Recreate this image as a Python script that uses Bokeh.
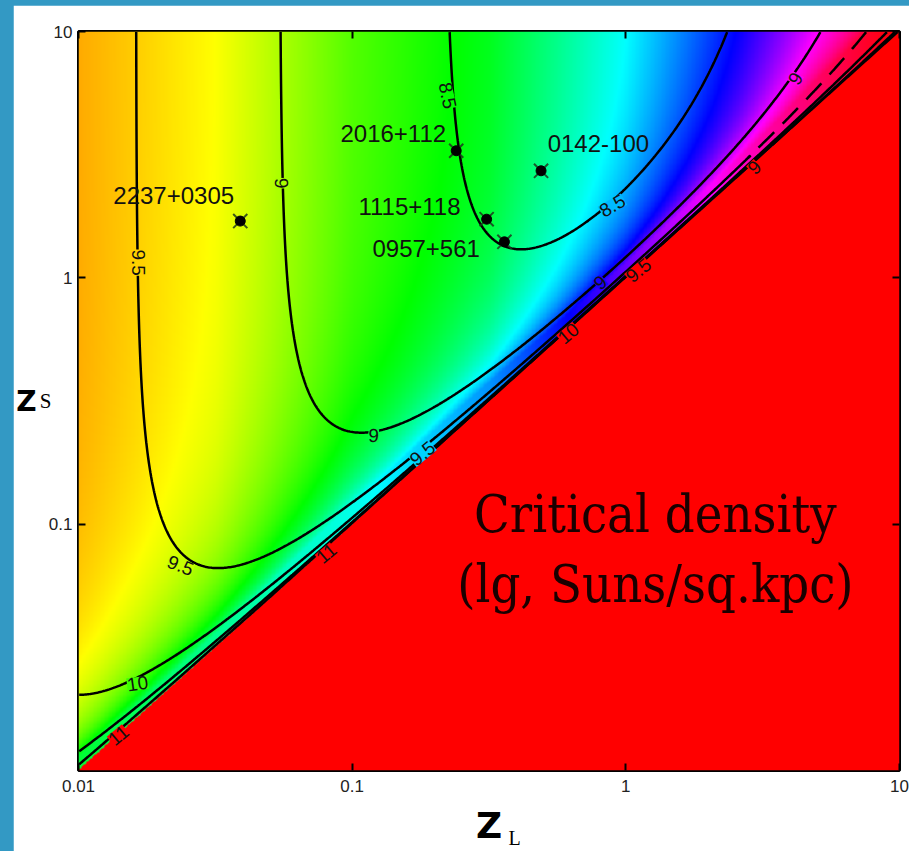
import numpy as np
from bokeh.plotting import figure
from bokeh.plotting.contour import contour_data
from bokeh.models import ColumnDataSource, FixedTicker, LinearAxis, Title
from bokeh.layouts import column
from bokeh.embed import file_html
from bokeh.resources import INLINE
from bokeh.core.properties import value

# ---------------- data ----------------
x_tick_values = [0.01, 0.1, 1, 10]
x_tick_labels = ["0.01", "0.1", "1", "10"]
y_tick_values = [0.1, 1, 10]
y_tick_labels = ["0.1", "1", "10"]

# lensed quasars (lens redshift z_L, source redshift z_S)
lens_names = ["2237+0305", "2016+112", "0142-100", "1115+118", "0957+561"]
lens_zl = [0.039, 0.24, 0.49, 0.31, 0.36]
lens_zs = [1.70, 3.28, 2.72, 1.73, 1.40]
name_zl = [0.0134, 0.0906, 0.518, 0.1054, 0.1186]
name_zs = [2.16, 3.85, 3.51, 1.95, 1.315]

# contour levels of lg(critical density); the upper branch of DASHED_LEVEL is dashed
levels = [8.5, 9.0, 9.5, 10.0, 10.5, 11.0]
DASHED_LEVEL = 9.5
DASH_FROM_ZL = 2.8

# contour labels
clabel_text = ["8.5", "9", "9.5", "9", "9.5", "10", "11", "11", "9.5", "10", "9", "9.5", "8.5", "9", "9"]
clabel_zl = [0.223, 0.0552, 0.0166, 0.1197, 0.0236, 0.01644, 0.0140, 0.0805, 0.1807, 0.617, 0.807, 1.112, 0.893, 4.17, 2.95]
clabel_zs = [5.5, 2.42, 1.153, 0.229, 0.0679, 0.02254, 0.01387, 0.076, 0.1936, 0.594, 0.957, 1.072, 1.963, 6.44, 2.81]
clabel_angle = [-78, -88, -90, -3, -22, 8, 40, 40, 40, 40, 40, 40, 30, 60, 45]

# cosmology used for the critical density field
OMEGA_M = 0.3
H0 = 70.0
OFFSET = -0.89

# colour map: hue (deg) versus lg z_L far from the diagonal, and its cap at the diagonal
HUE_U = [-2.0, -1.5, -1.0, -0.5, 0.0, 0.4, 0.7, 1.0]
HUE_A = [40, 60, 100, 125, 175, 227, 270, 300]
HMAX_U = [-2.0, -1.0, -0.5, 0.0, 0.5, 1.0]
HMAX = [132, 175, 205, 265, 320, 360]

# ---------------- field ----------------
N = 600
u = -2 + (np.arange(N) + 0.5) * 3.0 / N
v = -2 + (np.arange(N) + 0.5) * 3.0 / N
U, V = np.meshgrid(u, v)

zg = np.linspace(0, 12, 120001)
Ez = np.sqrt(OMEGA_M * (1 + zg) ** 3 + 1 - OMEGA_M)
chi_g = np.concatenate([[0.0], np.cumsum(0.5 * (1 / Ez[1:] + 1 / Ez[:-1]) * np.diff(zg))]) * 299792.458 / H0


def log_sigma(uu, vv):
    zl = 10 ** uu
    zs = 10 ** vv
    cl = np.interp(zl, zg, chi_g)
    cs = np.interp(zs, zg, chi_g)
    valid = vv > uu
    dl = cl / (1 + zl)
    ds = cs / (1 + zs)
    dls = np.where(valid, (cs - cl) / (1 + zs), 1.0)
    ratio = ds / (dl * np.maximum(dls, 1e-9))
    out = np.log10(1.6626e18 * ratio) - 6 + OFFSET
    return np.where(valid, out, 99.0)


def hue_at(uu, vv):
    q = np.clip(10 ** (uu - vv), 0, 1 - 1e-12)
    w = -np.log10(1 - q)
    h = np.minimum(np.interp(uu, HUE_U, HUE_A) + 100 * w, np.interp(uu, HMAX_U, HMAX))
    return np.where(vv > uu, h, 360)


def hue_rgb(h):
    h6 = (h / 60.0) % 6
    r = np.clip(np.abs(h6 - 3) - 1, 0, 1)
    g = np.clip(2 - np.abs(h6 - 2), 0, 1)
    b = np.clip(2 - np.abs(h6 - 4), 0, 1)
    return r, g, b


LS = log_sigma(U, V)
R, G, B = hue_rgb(hue_at(U, V))
img = np.empty((N, N), dtype=np.uint32)
view = img.view(dtype=np.uint8).reshape((N, N, 4))
view[..., 0] = (R * 255).astype(np.uint8)
view[..., 1] = (G * 255).astype(np.uint8)
view[..., 2] = (B * 255).astype(np.uint8)
view[..., 3] = 255

# ---------------- figure ----------------
p = figure(frame_width=821, frame_height=739, x_range=(-2, 1), y_range=(-2, 1),
           output_backend="svg", toolbar_location=None,
           min_border_left=65, min_border_right=10, min_border_top=26, min_border_bottom=81,
           x_axis_type=None, y_axis_type=None)
p.border_fill_color = "white"
p.background_fill_color = "red"
p.outline_line_color = "black"
p.outline_line_width = 3
p.grid.visible = False

p.image_rgba(image=[img], x=-2, y=-2, dw=3, dh=3)

solid_levels = [lv for lv in levels if lv != DASHED_LEVEL]
p.contour(u, v, LS, levels=solid_levels, line_color="black", line_width=2.5)

# the dashed-branch level, drawn from the library's contour lines
cd = contour_data(u, v, LS, levels=[DASHED_LEVEL, DASHED_LEVEL + 1e-6], want_fill=False, want_line=True)
lx = np.asarray(cd.line_data.xs[0], dtype=float)
ly = np.asarray(cd.line_data.ys[0], dtype=float)
cut = np.log10(DASH_FROM_ZL)
p.line(np.where(lx <= cut + 0.01, lx, np.nan), np.where(lx <= cut + 0.01, ly, np.nan),
       line_color="black", line_width=2.5)
p.line(np.where(lx >= cut, lx, np.nan), np.where(lx >= cut, ly, np.nan),
       line_color="black", line_width=2.5, line_dash="22 12")


def tick_axis(values, labels, show_labels):
    pos = [float(np.log10(t)) for t in values]
    ax = LinearAxis(ticker=FixedTicker(ticks=pos))
    ax.major_label_overrides = {t: s for t, s in zip(pos, labels)}
    ax.axis_line_color = None
    ax.major_tick_in = 7
    ax.major_tick_out = 0
    ax.major_tick_line_color = "black"
    ax.major_tick_line_width = 2
    ax.minor_tick_line_color = None
    ax.major_label_text_font = "Liberation Sans"
    if show_labels:
        ax.major_label_text_font_size = "17px"
        ax.major_label_text_color = "#222222"
        ax.major_label_standoff = 6
    else:
        ax.major_label_text_font_size = "1px"
        ax.major_label_text_color = None
        ax.major_label_standoff = 0
    return ax


def title_axis(text, font, size, bold, standoff):
    ax = LinearAxis(ticker=FixedTicker(ticks=[]))
    ax.axis_line_color = None
    ax.major_tick_line_color = None
    ax.minor_tick_line_color = None
    ax.major_label_standoff = 0
    ax.major_label_text_font_size = "1px"
    ax.axis_label = text
    ax.axis_label_text_font = font
    ax.axis_label_text_font_size = size
    ax.axis_label_text_font_style = "bold" if bold else "normal"
    ax.axis_label_text_color = "black"
    ax.axis_label_standoff = standoff
    ax.axis_label_orientation = "horizontal"
    return ax


xa = tick_axis(x_tick_values, x_tick_labels, True)
xa.major_label_standoff = 9
xa.axis_label = "Z"
xa.axis_label_text_font = "DejaVu Sans"
xa.axis_label_text_font_size = "36px"
xa.axis_label_text_font_style = "bold"
xa.axis_label_text_color = "black"
xa.axis_label_standoff = 10
p.add_layout(xa, "below")
p.add_layout(Title(text="L", align="left", offset=430, standoff=-43, vertical_align="top",
                   text_font="Liberation Serif", text_font_size="20px", text_font_style="normal",
                   text_color="black"), "below")

p.add_layout(tick_axis(y_tick_values, y_tick_labels, True), "left")
p.add_layout(title_axis("S", "Liberation Serif", "21px", False, -6), "left")
p.add_layout(title_axis("Z", "DejaVu Sans", "28px", True, 0), "left")

p.add_layout(tick_axis(x_tick_values, x_tick_labels, False), "above")
p.add_layout(tick_axis(y_tick_values, y_tick_labels, False), "right")

# contour labels
cu = np.log10(clabel_zl)
cv = np.log10(clabel_zs)
cr, cg, cb = hue_rgb(hue_at(cu, cv))
bg = ["#%02x%02x%02x" % (int(a * 255), int(b_ * 255), int(c * 255)) for a, b_, c in zip(cr, cg, cb)]
csrc = ColumnDataSource(dict(x=cu, y=cv, t=clabel_text, a=clabel_angle, bg=bg))
p.text(x="x", y="y", text="t", angle="a", angle_units="deg", source=csrc,
       text_font=value("Liberation Sans"), text_font_size="19px", text_color="#111111",
       text_align="center", text_baseline="middle", background_fill_color="bg")

# lensed quasars
qsrc = ColumnDataSource(dict(x=np.log10(lens_zl), y=np.log10(lens_zs)))
p.scatter(x="x", y="y", source=qsrc, marker="x", size=20, line_color="#1e3a1e", line_width=2, line_alpha=0.85)
p.scatter(x="x", y="y", source=qsrc, marker="circle", size=10, fill_color="black", line_color="black")
nsrc = ColumnDataSource(dict(x=np.log10(name_zl), y=np.log10(name_zs), t=lens_names))
p.text(x="x", y="y", text="t", source=nsrc, text_font=value("Liberation Sans"), text_font_size="24px",
       text_color="#111111", text_align="left", text_baseline="middle")

# caption in the red region
p.text(x=[0.108, 0.108], y=[-0.957, -1.241], text=["Critical density", "(lg, Suns/sq.kpc)"],
       text_font=value("DejaVu Serif Condensed"), text_font_size="52px", text_color="#1a0000",
       text_align="center", text_baseline="alphabetic")

root = column(p, styles={"background-color": "#3399c4", "padding-left": "13px", "padding-top": "5px"})

open("out.html", "w").write(file_html(root, INLINE))
